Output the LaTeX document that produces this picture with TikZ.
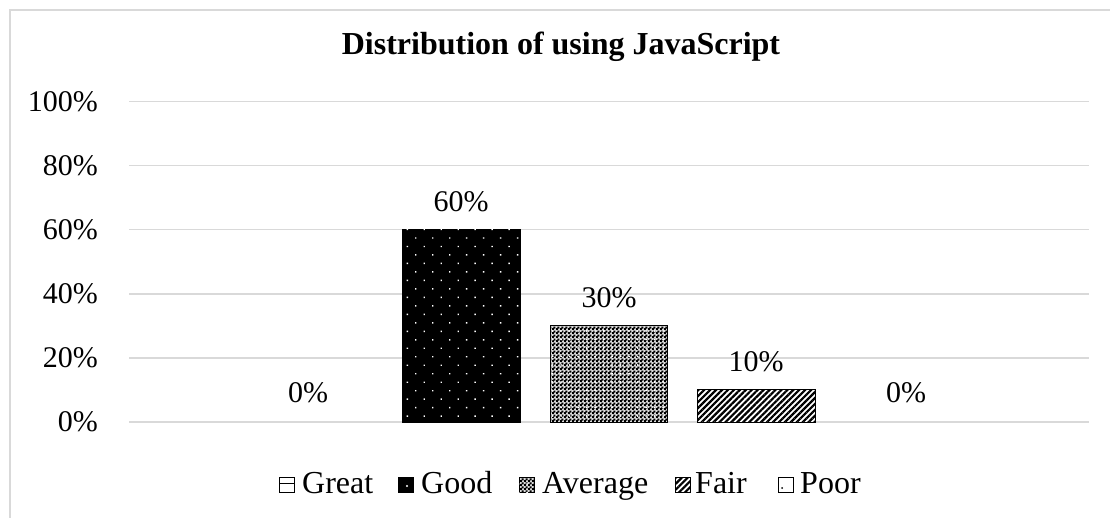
\documentclass[tikz,border=0pt]{standalone}
\usepackage{fontspec}
\setmainfont{Liberation Serif}
\usetikzlibrary{patterns,patterns.meta}
\definecolor{gridgray}{HTML}{D9D9D9}
\pgfdeclarepattern{
  name=finechecker,
  type=uncolored,
  bottom left={\pgfpoint{0pt}{0pt}},
  top right={\pgfpoint{4pt}{4pt}},
  tile size={\pgfpoint{4pt}{4pt}},
  code={
    \pgfpathrectangle{\pgfpoint{-0.2pt}{-0.2pt}}{\pgfpoint{2.4pt}{2.4pt}}
    \pgfpathrectangle{\pgfpoint{1.8pt}{1.8pt}}{\pgfpoint{2.4pt}{2.4pt}}
    \pgfusepath{fill}
  }
}
\begin{document}
\begin{tikzpicture}[x=1pt,y=-1pt,
  gridline/.style={draw=gridgray,line width=1.5pt},
  frameline/.style={draw=gridgray,line width=1.5pt},
  txt/.style={font=\fontsize{30}{32}\selectfont, inner sep=0pt},
  ticklbl/.style={txt, anchor=east},
  vallbl/.style={txt},
  legtxt/.style={font=\fontsize{32}{34}\selectfont, inner sep=0pt, anchor=base west},
  bar/.style={draw=black,line width=1pt},
  goodfill/.style={fill=black, postaction={pattern={Dots[angle=45,distance=12pt,radius=1pt]}, pattern color=white}},
  avgfill/.style={fill=black!15, postaction={pattern=finechecker, pattern color=black}, postaction={pattern={Dots[distance=8.5pt,radius=1pt]}, pattern color=white}},
  fairfill/.style={fill=white, postaction={pattern={Lines[angle=45,distance=4.2pt,line width=2.2pt]}, pattern color=black}},
  marker/.style={draw=black,line width=0.8pt}
]
\useasboundingbox (0,0) rectangle (1110,518);
% chart frame (partly visible)
\draw[frameline] (10,518) -- (10,10) -- (1110,10);
% title
\node[font=\fontsize{32}{34}\selectfont\bfseries, inner sep=0pt] (title) at (561,47) {Distribution of using JavaScript};
% gridlines and tick labels
\foreach \v/\lab [count=\i] in {0/0\%,20/20\%,40/40\%,60/60\%,80/80\%,100/100\%}{
  \draw[gridline] (129,{422-3.205*\v}) -- (1089,{422-3.205*\v});
  \node[ticklbl] (tick\i) at (98,{422-3.205*\v}) {\lab};
}
% bars
\path[bar,goodfill] (402.7,229.7) rectangle (520,422);
\path[bar,avgfill] (550.7,325.8) rectangle (667.3,422);
\path[bar,fairfill] (697.7,389.9) rectangle (815,422);
% value labels
\node[vallbl] (vgreat) at (308,393) {0\%};
\node[vallbl] (vgood) at (461,201.7) {60\%};
\node[vallbl] (vavg) at (609,298) {30\%};
\node[vallbl] (vfair) at (756,362) {10\%};
\node[vallbl] (vpoor) at (906,393) {0\%};
% legend
% Great
\draw[marker,fill=white] (279,477) rectangle (294,492);
\draw[marker] (279,483) -- (294,483);
\node[legtxt] (lgreat) at (302,493) {Great};
% Good
\draw[marker,fill=black] (398,477) rectangle (413,492);
\fill[white] (407,486) circle (1.1pt);
\node[legtxt] (lgood) at (421,493) {Good};
% Average
\path[marker,avgfill] (519,477) rectangle (534,492);
\node[legtxt] (lavg) at (542,493) {Average};
% Fair
\path[marker,fairfill] (675,477) rectangle (690,492);
\node[legtxt] (lfair) at (695,493) {Fair};
% Poor
\draw[marker,fill=white] (778,477) rectangle (793,492);
\fill[black] (782,488) circle (1pt);
\node[legtxt] (lpoor) at (800,493) {Poor};
\end{tikzpicture}
\end{document}
